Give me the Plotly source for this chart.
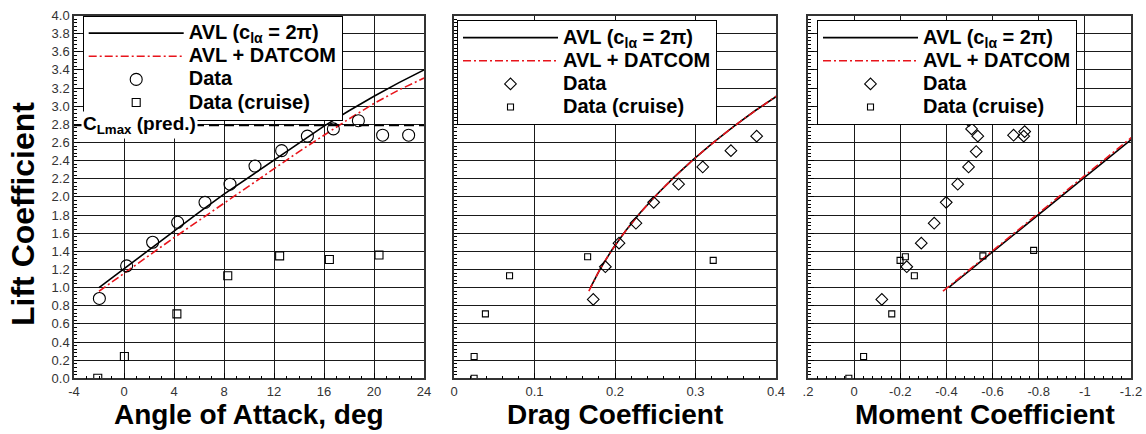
import plotly.graph_objects as go

# ---------------- Lift curve ----------------
alpha_avl = [-2, 0, 2, 4, 6, 8, 10, 12, 14, 16, 18, 20, 22, 24]
cl_avl = [1.00, 1.21, 1.42, 1.63, 1.83, 2.03, 2.22, 2.41, 2.60, 2.78, 2.95, 3.11, 3.26, 3.40]
cl_datcom = [0.96, 1.16, 1.35, 1.55, 1.74, 1.93, 2.13, 2.32, 2.50, 2.68, 2.86, 3.03, 3.18, 3.31]

alpha_data = [-1.97, 0.21, 2.29, 4.29, 6.48, 8.48, 10.48, 12.61, 14.67, 16.75, 18.75, 20.69, 22.77]
cl_data = [0.88, 1.24, 1.50, 1.72, 1.94, 2.14, 2.34, 2.51, 2.67, 2.75, 2.84, 2.68, 2.68]

alpha_cruise = [-2.1, 0.03, 4.23, 8.3, 12.45, 16.43, 20.4]
cl_cruise = [0.0, 0.24, 0.71, 1.13, 1.35, 1.31, 1.36]

cl_max_pred = 2.79

# ---------------- Drag polar ----------------
cd_avl = [0.1695, 0.1818, 0.1965, 0.2135, 0.2318, 0.2523, 0.2738, 0.2971,
          0.3223, 0.3480, 0.3739, 0.3996, 0.4250, 0.4497]
cd_datcom = [0.1675, 0.1787, 0.1914, 0.2067, 0.2233, 0.2418, 0.2634, 0.2858,
             0.3088, 0.3335, 0.3600, 0.3866, 0.4113, 0.4337]

cd_data = [0.173, 0.188, 0.205, 0.226, 0.248, 0.279, 0.309, 0.344, 0.376]
cl_data_cd = [0.87, 1.23, 1.49, 1.71, 1.94, 2.14, 2.33, 2.51, 2.67]

cd_cruise = [0.025, 0.025, 0.039, 0.069, 0.166, 0.322]
cl_cruise_cd = [0.0, 0.24, 0.71, 1.13, 1.34, 1.30]

# ---------------- Pitching moment ----------------
cm_avl = [-0.409, -0.511, -0.613, -0.715, -0.812, -0.909, -1.001, -1.093,
          -1.185, -1.273, -1.355, -1.433, -1.506, -1.573]
cm_datcom = [-0.385, -0.481, -0.573, -0.669, -0.761, -0.853, -0.949, -1.041,
             -1.127, -1.214, -1.301, -1.383, -1.455, -1.518]

cm_data = [-0.120, -0.228, -0.291, -0.347, -0.399, -0.449, -0.496, -0.529,
           -0.536, -0.509, -0.497, -0.691, -0.739, -0.735]
cl_data_cm = [0.87, 1.23, 1.49, 1.71, 1.94, 2.14, 2.33, 2.50, 2.67, 2.75, 2.84, 2.68, 2.72, 2.67]

cm_cruise = [0.023, -0.041, -0.163, -0.261, -0.199, -0.222, -0.558, -0.778]
cl_cruise_cm = [0.0, 0.24, 0.71, 1.13, 1.30, 1.34, 1.35, 1.41]

# ---------------- Tick labels ----------------
alpha_ticks = [-4, 0, 4, 8, 12, 16, 20, 24]
alpha_ticktext = ["-4", "0", "4", "8", "12", "16", "20", "24"]
cd_ticks = [0, 0.1, 0.2, 0.3, 0.4]
cd_ticktext = ["0", "0.1", "0.2", "0.3", "0.4"]
cm_ticks = [0.2, 0, -0.2, -0.4, -0.6, -0.8, -1.0, -1.2]
cm_ticktext = [".2", "0", "-0.2", "-0.4", "-0.6", "-0.8", "-1", "-1.2"]
cl_ticks = [round(0.2 * i, 1) for i in range(21)]
cl_ticktext = [f"{v:.1f}" for v in cl_ticks]

FONT = "Liberation Sans, Arial, sans-serif"
W, H = 1146, 434
BLACK = "#000000"
RED = "#e8141b"
DASHDOT = "8px,3px,2px,3px"


def px(x):
    """pixel column -> paper x"""
    return x / W


def py(y):
    """pixel row -> paper y"""
    return 1 - y / H


def big(label):
    # legend rows are spaced by the legend font size; the label itself is larger
    return f'<span style="font-size:20px">{label}</span>'


AVL_NAME = big("AVL (c<sub>lα</sub> = 2π)")
DATCOM_NAME = big("AVL + DATCOM")
DATA_NAME = big("Data")
CRUISE_NAME = big("Data (cruise)")

fig = go.Figure()


def add_panel(x_avl, y_avl, x_dat, y_dat, x_d, y_d, x_c, y_c, xa, ya, leg,
              circ_symbol, circ_size, sq_size):
    fig.add_trace(go.Scatter(x=x_avl, y=y_avl, mode="lines", name=AVL_NAME,
                             line=dict(color=BLACK, width=1.6),
                             xaxis=xa, yaxis=ya, legend=leg))
    fig.add_trace(go.Scatter(x=x_dat, y=y_dat, mode="lines", name=DATCOM_NAME,
                             line=dict(color=RED, width=1.6, dash=DASHDOT),
                             xaxis=xa, yaxis=ya, legend=leg))
    fig.add_trace(go.Scatter(x=x_d, y=y_d, mode="markers", name=DATA_NAME,
                             marker=dict(symbol=circ_symbol, size=circ_size,
                                         color=BLACK, line=dict(width=1.1)),
                             xaxis=xa, yaxis=ya, legend=leg))
    fig.add_trace(go.Scatter(x=x_c, y=y_c, mode="markers", name=CRUISE_NAME,
                             marker=dict(symbol="square-open", size=sq_size,
                                         color=BLACK, line=dict(width=1.1)),
                             xaxis=xa, yaxis=ya, legend=leg))


# predicted maximum lift line (drawn first so the label box sits above it)
fig.add_trace(go.Scatter(x=[-4, 24], y=[cl_max_pred, cl_max_pred], mode="lines",
                         line=dict(color=BLACK, width=2, dash="10px,5px"),
                         showlegend=False, xaxis="x", yaxis="y"))

add_panel(alpha_avl, cl_avl, alpha_avl, cl_datcom, alpha_data, cl_data,
          alpha_cruise, cl_cruise, "x", "y", "legend", "circle-open", 12, 8)
add_panel(cd_avl, cl_avl, cd_datcom, cl_datcom, cd_data, cl_data_cd,
          cd_cruise, cl_cruise_cd, "x2", "y2", "legend2", "diamond-open", 9, 6)
add_panel(cm_avl, cl_avl, cm_datcom, cl_datcom, cm_data, cl_data_cm,
          cm_cruise, cl_cruise_cm, "x3", "y3", "legend3", "diamond-open", 9, 6)

y_dom = [py(378.3), py(15.5)]
x_doms = [[px(74), px(424)], [px(454), px(776)], [px(808), px(1131)]]

grid = dict(showgrid=True, gridcolor="#1a1a1a", gridwidth=1,
            showline=True, linecolor="#333333", linewidth=1.5, mirror=True,
            ticks="inside", ticklen=6, tickcolor=BLACK, zeroline=False,
            automargin=False,
            tickfont=dict(family=FONT, size=13, color="#333333"))

layout_axes = {}
xa_specs = [
    ([-4, 24], alpha_ticks, alpha_ticktext, 1, -4),
    ([0, 0.4], cd_ticks, cd_ticktext, 0.02, 0),
    ([0.2, -1.2], cm_ticks, cm_ticktext, 0.04, 0.2),
]
for i, (rng, tv, tt, mdt, t0) in enumerate(xa_specs):
    key = "xaxis" if i == 0 else f"xaxis{i + 1}"
    yname = "y" if i == 0 else f"y{i + 1}"
    layout_axes[key] = dict(grid, domain=x_doms[i], range=rng, anchor=yname,
                            tickmode="array", tickvals=tv, ticktext=tt,
                            minor=dict(dtick=mdt, tick0=t0, ticks="inside",
                                       ticklen=3, tickcolor=BLACK, showgrid=False))
    ykey = "yaxis" if i == 0 else f"yaxis{i + 1}"
    xname = "x" if i == 0 else f"x{i + 1}"
    layout_axes[ykey] = dict(grid, domain=y_dom, range=[0, 4.0], anchor=xname,
                             tickmode="array", tickvals=cl_ticks,
                             ticktext=cl_ticktext, showticklabels=(i == 0),
                             minor=dict(dtick=0.04, tick0=0, ticks="inside",
                                        ticklen=3, tickcolor=BLACK, showgrid=False))

legend_style = dict(bgcolor="white", bordercolor=BLACK, borderwidth=1,
                    xanchor="left", yanchor="top", itemwidth=95,
                    font=dict(family=FONT, size=15.5, color=BLACK, weight="bold"),
                    tracegroupgap=0, itemclick=False)

title_font = dict(family=FONT, size=28, color=BLACK, weight="bold")
annotations = [
    dict(text="Angle of Attack, deg", x=px(249), y=py(414)),
    dict(text="Drag Coefficient", x=px(615), y=py(414)),
    dict(text="Moment Coefficient", x=px(985), y=py(414)),
]
for a in annotations:
    a.update(xref="paper", yref="paper", xanchor="center", yanchor="middle",
             showarrow=False, font=title_font)
annotations += [
    dict(text="Lift Coefficient", x=px(23), y=py(214), xref="paper",
         yref="paper", xanchor="center", yanchor="middle", showarrow=False,
         textangle=-90,
         font=dict(family=FONT, size=32, color=BLACK, weight="bold")),
    dict(text="C<sub>Lmax</sub> (pred.)", x=-3.45, y=cl_max_pred, xref="x",
         yref="y", xanchor="left", yanchor="middle", showarrow=False,
         bgcolor="white", borderpad=1,
         font=dict(family=FONT, size=19, color=BLACK, weight="bold")),
]

fig.update_layout(
    width=W, height=H,
    margin=dict(l=0, r=0, t=0, b=0, pad=0, autoexpand=False),
    paper_bgcolor="white", plot_bgcolor="white",
    legend=dict(legend_style, x=px(82.7), y=py(15.5)),
    legend2=dict(legend_style, x=px(457), y=py(20)),
    legend3=dict(legend_style, x=px(817), y=py(20)),
    annotations=annotations,
    **layout_axes,
)

fig.write_html("out.html")
